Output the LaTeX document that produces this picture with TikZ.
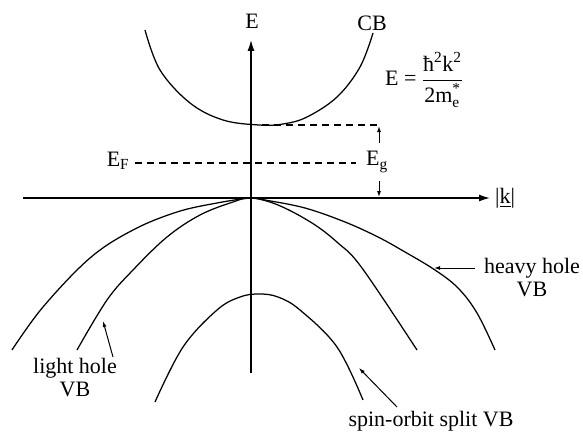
\documentclass[tikz,border=0pt]{standalone}
\usepackage{fontspec}
\setmainfont{Liberation Serif}
\usepackage{amsmath}
\usetikzlibrary{arrows.meta}
\begin{document}
\begin{tikzpicture}[x=1pt,y=-1pt,
  lbl/.style={font=\fontsize{22}{23}\selectfont, inner sep=0pt, align=center},
  band/.style={line width=1.25pt},
  axis/.style={line width=1.4pt, -{Latex[length=11pt,width=7pt]}},
  dash line/.style={line width=1.2pt, dash pattern=on 7pt off 5pt},
  ptr/.style={line width=1pt, -{Latex[length=6pt,width=4pt]}}]
\useasboundingbox (0,0) rectangle (583,433);
% axes
\coordinate (O) at (251,198);
\coordinate (ytop) at (251,40);
\coordinate (ybot) at (251,373);
\coordinate (xl) at (23,198);
\coordinate (xr) at (490,198);
\draw[axis] (ybot) -- (ytop);
\draw[axis] (xl) -- (xr);
\node[lbl] (Elab) at (252,21) {E};
\node[lbl] (klab) at (505,198) {|\underline{k}|};
% conduction band
\draw[band] plot[smooth, tension=0.6] coordinates {(145,30) (160,70) (190,103) (223,120) (259,125) (283,124) (307,117) (337,97) (360,67) (373,33)};
\coordinate (cbmin) at (262,125);
\node[lbl] (CB) at (372,23) {CB};
\node[lbl] (eq) at (424,80) {E = $\dfrac{\text{ħ}^{\text{2}}\text{k}^{\text{2}}}{\text{2m}_{\text{e}}^{\text{*}}}$};
% heavy hole
\draw[band] plot[smooth, tension=0.6] coordinates {(12,350) (43,307) (90,258) (133,230) (177,212) (217,203) (251,198) (265,200) (305,208) (345,222) (378,237) (405,252) (435,270) (458,288) (477,313) (495,350)};
% light hole
\draw[band] plot[smooth, tension=0.6] coordinates {(77,350) (107,300) (133,270) (167,237) (200,215) (233,202) (251,198) (278,205) (312,223) (338,243) (362,268) (417,350)};
% spin-orbit
\draw[band] plot[smooth, tension=0.6] coordinates {(155,402) (183,347) (217,310) (240,297) (259,294) (278,297) (300,310) (337,347) (363,400)};
% gap and Fermi level
\coordinate (gtop) at (379,125);
\draw[dash line] (cbmin) -- (gtop);
\node[lbl] (EF) at (118,161) {E\textsubscript{F}};
\coordinate (efstart) at (135,163);
\coordinate (efend) at (356,163);
\draw[dash line] (efstart) -- (efend);
\node[lbl] (Eg) at (377,162) {E\textsubscript{g}};
\coordinate (ga1) at (379,143);
\coordinate (ga2) at (379,126);
\coordinate (gb1) at (379,181);
\coordinate (gb2) at (379,197);
\draw[ptr] (ga1) -- (ga2);
\draw[ptr] (gb1) -- (gb2);
% labels with pointers
\node[lbl] (lh) at (75,378) {light hole\\VB};
\coordinate (lhs) at (113,357);
\coordinate (lht) at (103,321);
\draw[ptr] (lhs) -- (lht);
\node[lbl] (hh) at (532,278) {heavy hole\\VB};
\coordinate (hhs) at (475,268);
\coordinate (hht) at (434,268);
\draw[ptr] (hhs) -- (hht);
\node[lbl] (so) at (431,421) {spin-orbit split VB};
\coordinate (sos) at (397,407);
\coordinate (sot) at (359,368);
\draw[ptr] (sos) -- (sot);
\end{tikzpicture}
\end{document}
